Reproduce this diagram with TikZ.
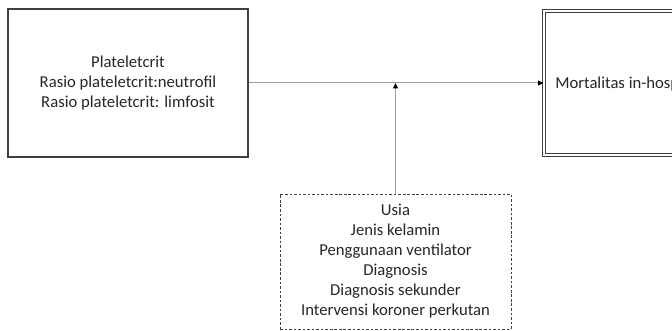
\documentclass[tikz,border=0pt]{standalone}
\usepackage{fontspec}
\setmainfont{Carlito}
\usetikzlibrary{arrows.meta}
\definecolor{boxline}{HTML}{404040}
\definecolor{arrline}{HTML}{9A9A9A}
\definecolor{txt}{HTML}{262626}
\begin{document}
\begin{tikzpicture}[x=0.75pt,y=-0.75pt,
  every node/.style={font=\fontsize{12.5}{15}\selectfont, text=txt},
  solidbox/.style={draw=boxline, line width=0.8pt, inner sep=0pt, align=center},
  dblbox/.style={draw=boxline, line width=0.7pt, double=white, double distance=1.9pt, inner sep=0pt},
  dashbox/.style={draw=boxline, line width=0.7pt, dash pattern=on 2pt off 1.4pt, inner sep=0pt, align=center},
  conn/.style={draw=arrline, line width=0.75pt, -{Triangle[length=4pt,width=3.6pt,fill=black,color=black]}}
]
\useasboundingbox (0,0) rectangle (672,331);
\clip (0,0) rectangle (672,331);
\node[solidbox, minimum width=180pt, minimum height=111pt] (L) at (128,83)
  {Plateletcrit\\Rasio plateletcrit:neutrofil\\Rasio plateletcrit: limfosit};
\node[dblbox, minimum width=192pt, minimum height=108pt] (R) at (672,83) {};
\node[anchor=west, inner sep=0pt] (Rt) at (555,84) {Mortalitas in-hospital};
\node[dashbox, minimum width=173.25pt, minimum height=101.25pt] (D) at (395.5,261.5)
  {Usia\\Jenis kelamin\\Penggunaan ventilator\\Diagnosis\\Diagnosis sekunder\\Intervensi koroner perkutan};
\coordinate (J) at (D.north |- L.east);
\draw[conn] (L.east) -- (R.west);
\draw[conn] (D.north) -- (J);
\end{tikzpicture}
\end{document}
